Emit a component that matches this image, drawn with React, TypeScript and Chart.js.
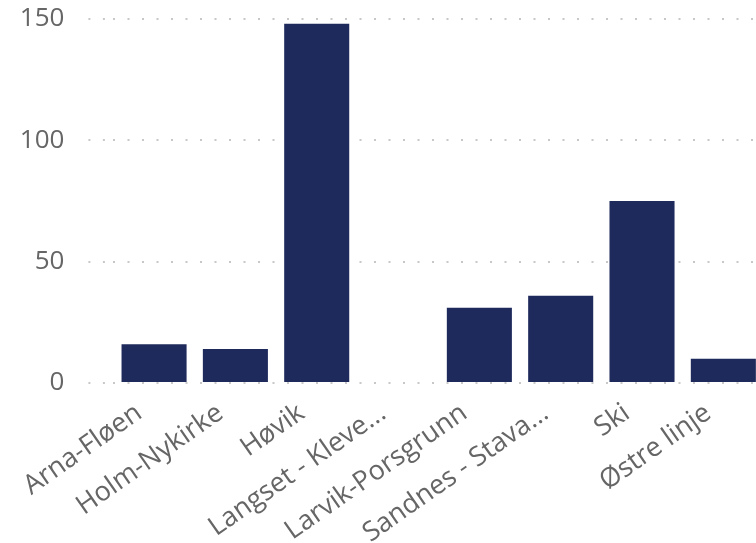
import React, { useEffect, useRef } from "react";
import { Chart, registerables } from "chart.js";

Chart.register(...registerables);

const categories = [
  "Arna-Fløen",
  "Holm-Nykirke",
  "Høvik",
  "Langset - Kleve...",
  "Larvik-Porsgrunn",
  "Sandnes - Stava...",
  "Ski",
  "Østre linje",
];
const values = [16, 14, 148, 0, 31, 36, 75, 10];
const yTicks = [0, 50, 100, 150];

const FONT = "'Open Sans', 'Noto Sans', sans-serif";

export default function App() {
  const ref = useRef<HTMLCanvasElement | null>(null);

  useEffect(() => {
    if (!ref.current) return;
    const chart = new Chart(ref.current, {
      type: "bar",
      data: {
        labels: categories,
        datasets: [
          {
            data: values,
            backgroundColor: "#1f2a5c",
            borderWidth: 0,
            categoryPercentage: 0.8,
            barPercentage: 1,
          },
        ],
      },
      options: {
        animation: false,
        responsive: true,
        maintainAspectRatio: false,
        layout: { padding: { top: 19, right: 16, left: 0, bottom: 0 } },
        plugins: { legend: { display: false }, tooltip: { enabled: false } },
        scales: {
          x: {
            grid: { display: false, drawTicks: false },
            border: { display: false },
            ticks: {
              autoSkip: false,
              minRotation: 35,
              maxRotation: 35,
              padding: 14,
              labelOffset: -15,
              color: "#666666",
              font: { family: FONT, size: 27 },
            },
            afterFit: (s: any) => {
              s.height = 160;
            },
          },
          y: {
            min: 0,
            max: 150,
            afterBuildTicks: (s: any) => {
              s.ticks = yTicks.map((v) => ({ value: v }));
            },
            grid: {
              color: "#c8c8c8",
              lineWidth: 2,
              drawTicks: true,
              tickLength: 25,
              tickColor: "#c8c8c8",
              tickWidth: 2,
              tickBorderDash: [2, 12.5],
            },
            border: { display: false, dash: [2, 12.5] },
            ticks: {
              padding: 24,
              color: "#666666",
              font: { family: FONT, size: 26, lineHeight: 1 },
            },
            afterFit: (s: any) => {
              s.width = 113.4;
              s.paddingTop = 10;
              s.paddingBottom = 10;
            },
          },
        },
      },
    });
    return () => chart.destroy();
  }, []);

  return (
    <div
      style={{
        position: "fixed",
        left: 0,
        top: 0,
        width: 756,
        height: 543,
        overflow: "hidden",
        background: "#fff",
      }}
    >
      <div style={{ position: "relative", width: 780, height: 543 }}>
        <canvas ref={ref} />
      </div>
    </div>
  );
}
